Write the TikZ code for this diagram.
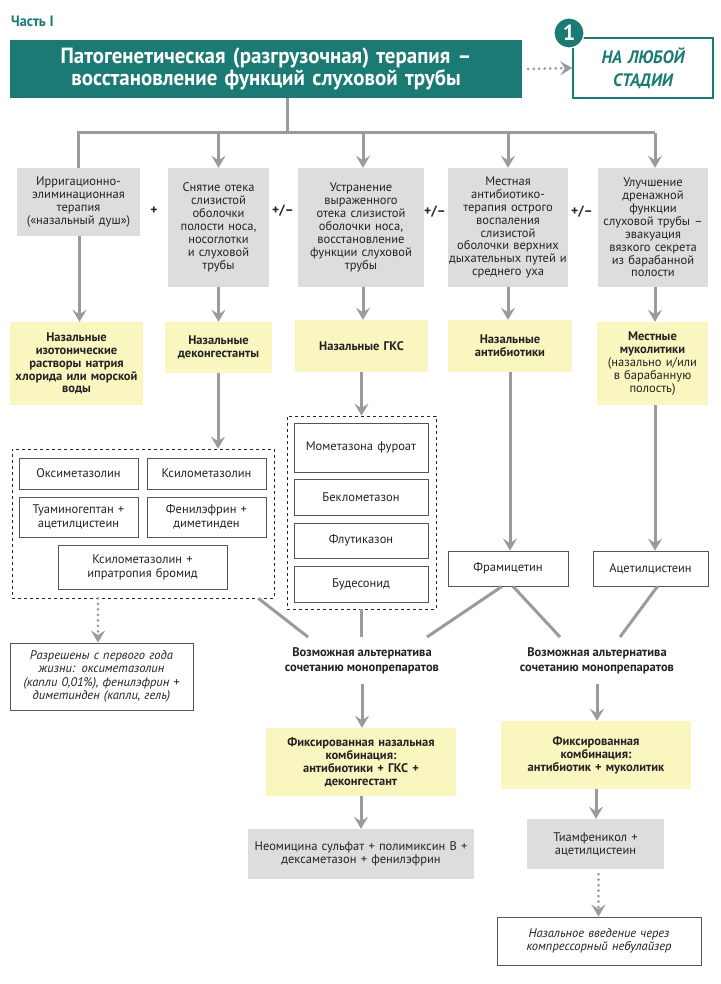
\documentclass[tikz,border=0pt]{standalone}
\usepackage{fontspec}
\setmainfont{PT Sans}
\newfontfamily\condfont[FakeStretch=0.95]{PT Sans}
\usetikzlibrary{arrows.meta}
\definecolor{teal1}{RGB}{27,122,116}
\definecolor{lgray}{RGB}{221,221,221}
\definecolor{pyellow}{RGB}{250,246,192}
\definecolor{cgray}{RGB}{155,155,155}
\definecolor{bord}{RGB}{85,85,85}
\definecolor{txt}{RGB}{35,35,35}
\newcommand\mybox[7]{%
  \pgfmathsetmacro\mybxw{#4-#2}\pgfmathsetmacro\mybxh{#5-#3}\pgfmathsetmacro\mybxt{#4-#2-1}%
  \node[#6, minimum width=\mybxw pt, minimum height=\mybxh pt, text width=\mybxt pt, inner sep=0pt, align=center] (#1) at ({(#2+#4)/2},{(#3+#5)/2}) {#7};}
\begin{document}
\begin{tikzpicture}[x=1pt,y=-1pt,
  graybox/.style={fill=lgray, text=txt, font=\fontsize{12.5}{12.9}\selectfont},
  yelbox/.style={fill=pyellow, text=txt, font=\fontsize{12.5}{12.9}\selectfont\bfseries},
  whitebox/.style={draw=bord, line width=0.8pt, fill=white, text=txt, font=\fontsize{12.5}{14}\selectfont},
  itbox/.style={draw=bord, line width=0.8pt, fill=white, text=txt, font=\fontsize{12.5}{13.5}\selectfont\itshape},
  dashbox/.style={draw=black!85, dashed, line width=0.7pt},
  conn/.style={draw=cgray, line width=3pt},
  arr/.style={conn, -{Stealth[length=12pt,width=14pt,inset=4.5pt]}},
  dotarr/.style={draw=cgray, line width=3pt, dash pattern=on 0pt off 5.5pt, line cap=round, -{Stealth[length=12pt,width=14pt,inset=4.5pt]}},
  sign/.style={text=txt, font=\fontsize{13.5}{14}\selectfont\bfseries},
  altlabel/.style={text=txt, align=center, font=\fontsize{12.5}{15.5}\selectfont\bfseries}
]
\useasboundingbox (0,0) rectangle (720,984);
\fill[white] (0,0) rectangle (720,984);

% header
\node[anchor=west, text=teal1, font=\condfont\fontsize{15}{16}\selectfont\bfseries, inner sep=0pt] (part) at (11,21) {Часть I};
\mybox{hdr}{10}{40}{522}{98}{fill=teal1, text=white, font=\condfont\fontsize{22}{22.5}\selectfont\bfseries}{Патогенетическая (разгрузочная) терапия –\\восстановление функций слуховой трубы}
\mybox{stage}{573}{38}{713}{98}{draw=teal1, line width=1.5pt, fill=white, text=teal1, font=\condfont\fontsize{18}{23}\selectfont\bfseries\itshape}{НА ЛЮБОЙ\\СТАДИИ}
\node[circle, fill=teal1, draw=white, line width=1.2pt, minimum size=30pt, inner sep=0pt, text=white, font=\fontsize{22}{22}\selectfont\bfseries] (num) at (569,33) {1};
\draw[dotarr] ([xshift=6pt]hdr.east) -- (stage.west);

% gray boxes
\mybox{g1}{17}{168}{140}{236}{graybox}{Ирригационно-\\элиминационная\\терапия\\(«назальный душ»)}
\mybox{g2}{168}{168}{269}{287}{graybox}{Снятие отека\\слизистой\\оболочки\\полости носа,\\носоглотки\\и слуховой\\трубы}
\mybox{g3}{298}{168}{424}{287}{graybox}{Устранение\\выраженного\\отека слизистой\\оболочки носа,\\восстановление\\функции слуховой\\трубы}
\mybox{g4}{448}{168}{568}{287}{graybox}{Местная\\антибиотико-\\терапия острого\\воспаления\\слизистой\\оболочки верхних\\дыхательных путей и\\среднего уха}
\mybox{g5}{598}{168}{708}{287}{graybox}{Улучшение\\дренажной\\функции\\слуховой трубы –\\эвакуация\\вязкого секрета\\из барабанной\\полости}

\node[sign] (s1) at (154,211) {+};
\node[sign] (s2) at (283,211) {+/–};
\node[sign] (s3) at (435,212) {+/–};
\node[sign] (s4) at (582,212) {+/–};

% tree lines
\coordinate (hub) at (287,133);
\draw[conn] (hub |- hdr.south) -- (hub);
\draw[conn] (g1.north) -- (g1.north |- hub) -- ([xshift=2pt]g5.north |- hub);
\draw[arr] (g2.north |- hub) -- (g2.north);
\draw[arr] ([xshift=2pt]g3.north |- hub) -- ([xshift=2pt]g3.north);
\draw[arr] (g4.north |- hub) -- (g4.north);
\draw[arr] ([xshift=2pt]g5.north |- hub) -- ([xshift=2pt]g5.north);

% yellow boxes
\mybox{y1}{10}{322}{143}{405}{yelbox}{Назальные\\изотонические\\растворы натрия\\хлорида или морской\\воды}
\mybox{y2}{165}{322}{272}{373}{yelbox}{Назальные\\деконгестанты}
\mybox{y3}{295}{320}{428}{372}{yelbox}{Назальные ГКС}
\mybox{y4}{448}{320}{572}{372}{yelbox}{Назальные\\антибиотики}
\mybox{y5}{597}{322}{708}{405}{yelbox}{Местные\\муколитики\\\mdseries(назально и/или\\\mdseries в барабанную\\\mdseries полость)}

\draw[arr] ([xshift=1pt]g1.south) -- ([xshift=1pt]g1.south |- y1.north);
\draw[arr] (g2.south) -- (g2.south |- y2.north);
\draw[arr] ([xshift=2pt]g3.south) -- ([xshift=2pt]g3.south |- y3.north);
\draw[arr] (g4.south) -- (g4.south |- y4.north);
\draw[arr] ([xshift=2pt]g5.south) -- ([xshift=2pt]g5.south |- y5.north);

% dashed groups
\mybox{dl}{12}{449}{274}{598}{dashbox}{}
\mybox{oxy}{19}{458}{138}{489}{whitebox}{Оксиметазолин}
\mybox{xyl}{147}{458}{266}{489}{whitebox}{Ксилометазолин}
\mybox{tua}{19}{497}{138}{537}{whitebox}{Туаминогептан +\\ацетилцистеин}
\mybox{phe}{147}{497}{266}{537}{whitebox}{Фенилэфрин +\\диметинден}
\mybox{xip}{58}{545}{227}{589}{whitebox}{Ксилометазолин +\\ипратропия бромид}

\mybox{dm}{287}{416}{436}{609}{dashbox}{}
\mybox{mom}{294}{423}{428}{472}{whitebox}{Мометазона фуроат}
\mybox{bek}{294}{479}{428}{515}{whitebox}{Беклометазон}
\mybox{flu}{294}{523}{428}{558}{whitebox}{Флутиказон}
\mybox{bud}{294}{566}{428}{602}{whitebox}{Будесонид}

\mybox{fram}{448}{551}{568}{586}{whitebox}{Фрамицетин}
\mybox{acet}{593}{551}{708}{586}{whitebox}{Ацетилцистеин}

\draw[arr] ([xshift=-0.5pt]y2.south) -- ([xshift=-0.5pt]y2.south |- dl.north);
\draw[arr] (y3.south) -- (y3.south |- dm.north);
\draw[arr] (y4.south) -- (y4.south |- fram.north);
\draw[arr] ([xshift=2.5pt]y5.south) -- ([xshift=2.5pt]y5.south |- acet.north);

% permitted note
\mybox{razr}{10}{643}{193}{710}{itbox}{Разрешены с первого года\\жизни: оксиметазолин\\(капли 0,01\%), фенилэфрин +\\диметинден (капли, гель)}
\draw[dotarr] ([xshift=-45pt]dl.south) -- ([xshift=-45pt]dl.south |- razr.north);

% convergence
\coordinate (m1) at (308,637);
\coordinate (m3) at (427,637);
\coordinate (m4) at (560,637);
\coordinate (m5) at (620,637);
\draw[conn] ([xshift=-16pt]dl.south east) -- (m1);
\draw[conn] (dm.south) -- (dm.south |- m1);
\draw[conn] ([xshift=-6pt]fram.south) -- (m3);
\draw[conn] ([xshift=5pt]fram.south) -- (m4);
\draw[conn] ([xshift=7pt]acet.south) -- (m5);

\node[altlabel] (alt1) at (362,661) {Возможная альтернатива\\сочетанию монопрепаратов};
\node[altlabel] (alt2) at (597,661) {Возможная альтернатива\\сочетанию монопрепаратов};

% fixed combinations
\mybox{fix1}{266}{728}{456}{796}{yelbox}{Фиксированная назальная\\комбинация:\\антибиотики + ГКС +\\деконгестант}
\mybox{neo}{248}{829}{474}{879}{graybox}{Неомицина сульфат + полимиксин В +\\дексаметазон + фенилэфрин}
\mybox{fix2}{501}{721}{691}{789}{yelbox}{Фиксированная\\комбинация:\\антибиотик + муколитик}
\mybox{tiam}{527}{819}{664}{869}{graybox}{Тиамфеникол +\\ацетилцистеин}
\mybox{neb}{497}{917}{701}{965}{itbox}{Назальное введение через\\компрессорный небулайзер}

\draw[arr] ([yshift=-6pt]alt1.south) -- (alt1.south |- fix1.north);
\draw[arr] ([yshift=-6pt]alt2.south) -- (alt2.south |- fix2.north);
\draw[arr] (fix1.south) -- (fix1.south |- neo.north);
\draw[arr] (fix2.south) -- (fix2.south |- tiam.north);
\draw[dotarr] ([xshift=3pt,yshift=-5pt]tiam.south) -- ([xshift=3pt]tiam.south |- neb.north);
\end{tikzpicture}
\end{document}
